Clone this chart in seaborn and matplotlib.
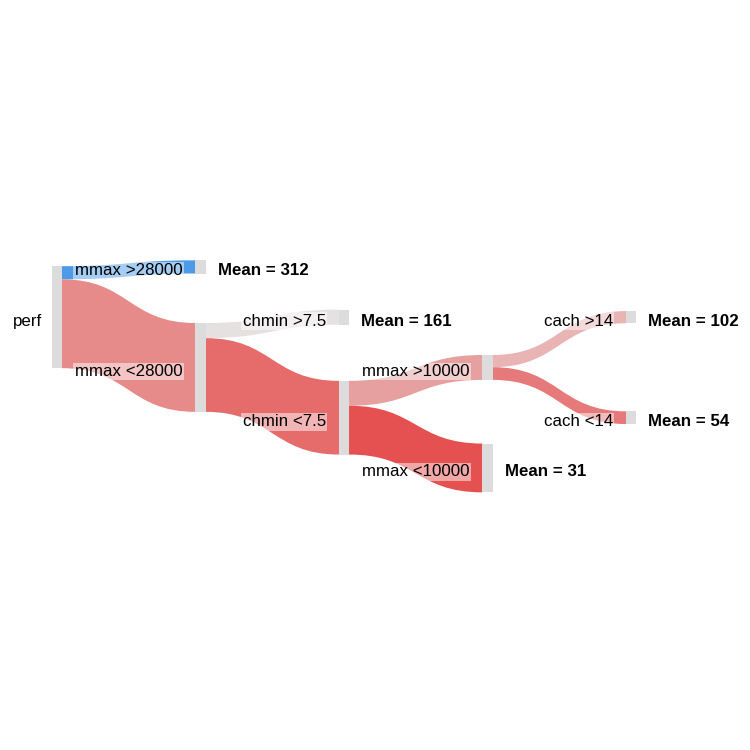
import numpy as np
import matplotlib.pyplot as plt
import seaborn as sns
from matplotlib.path import Path
from matplotlib.patches import PathPatch, Rectangle

# ======================
# Tree data (regression tree on perf)
# ======================
node_labels = ['perf', 'mmax >28000', 'mmax <28000', 'chmin >7.5', 'chmin <7.5',
               'mmax >10000', 'mmax <10000', 'cach >14', 'cach <14']
parents = [-1, 0, 0, 2, 2, 4, 4, 5, 5]
counts = [209, 27, 182, 31, 151, 51, 100, 25, 26]
leaf_means = {1: 312, 3: 161, 6: 31, 7: 102, 8: 54}

# link colours (one per child node), node colour
link_colors = [None, '#4c9be8', '#e68a8a', '#e6e1e1', '#e66c6c',
               '#e6a0a0', '#e55050', '#e8b4b4', '#e67a7a']
node_color = '#dcdcdc'

sns.set_theme(style='white')
plt.rcParams['font.family'] = ['Liberation Sans', 'DejaVu Sans']
plt.rcParams['text.color'] = 'black'

# ======================
# Layout
# ======================
gap = 103          # vertical offset of a child centre from its parent centre (samples)
node_w = 0.07      # node width in depth units
depth = [0] * len(counts)
center = [0.0] * len(counts)
upper_child = {}
for i, p in enumerate(parents):
    if p < 0:
        continue
    depth[i] = depth[p] + 1
    first = p not in upper_child
    if first:
        upper_child[p] = i
    center[i] = center[p] + (-gap if first else gap)

fig = plt.figure(figsize=(7.5, 7.5), dpi=100)
ax = fig.add_axes([0, 0, 1, 1])
ax.set_xlim(-0.362, 4.864)
ax.set_ylim(887, -650)
ax.axis('off')

# links
stack = {}
for i, p in enumerate(parents):
    if p < 0:
        continue
    top0 = center[p] - counts[p] / 2 + stack.get(p, 0)
    stack[p] = stack.get(p, 0) + counts[i]
    top1 = center[i] - counts[i] / 2
    x0 = depth[p] + node_w
    x1 = depth[i]
    xm = (x0 + x1) / 2
    h = counts[i]
    verts = [(x0, top0), (xm, top0), (xm, top1), (x1, top1),
             (x1, top1 + h), (xm, top1 + h), (xm, top0 + h), (x0, top0 + h), (x0, top0)]
    codes = [Path.MOVETO, Path.CURVE4, Path.CURVE4, Path.CURVE4,
             Path.LINETO, Path.CURVE4, Path.CURVE4, Path.CURVE4, Path.CLOSEPOLY]
    ax.add_patch(PathPatch(Path(verts, codes), facecolor=link_colors[i],
                           edgecolor='none', zorder=1))

# nodes
for i in range(len(counts)):
    ax.add_patch(Rectangle((depth[i], center[i] - counts[i] / 2), node_w, counts[i],
                           facecolor=node_color, edgecolor='none', zorder=2))

# labels
fs = 12.2
for i, p in enumerate(parents):
    if p < 0:
        ax.annotate(node_labels[i], (depth[i], center[i]), xytext=(-10, -4),
                    textcoords='offset pixels', ha='right', va='center', fontsize=fs,
                    color='black')
        continue
    ax.annotate(node_labels[i], (depth[i], center[i]), xytext=(-13, -4),
                textcoords='offset pixels', ha='right', va='center', fontsize=fs,
                color='black', zorder=3,
                bbox=dict(boxstyle='square,pad=0.08', facecolor='white',
                          edgecolor='none', alpha=0.5))
    if i in leaf_means:
        ax.annotate(f'Mean = {leaf_means[i]}', (depth[i] + node_w, center[i]),
                    xytext=(12, -4), textcoords='offset pixels', ha='left',
                    va='center', fontsize=fs, fontweight='bold', color='black')

fig.savefig('out.png', dpi=100, facecolor='white')
